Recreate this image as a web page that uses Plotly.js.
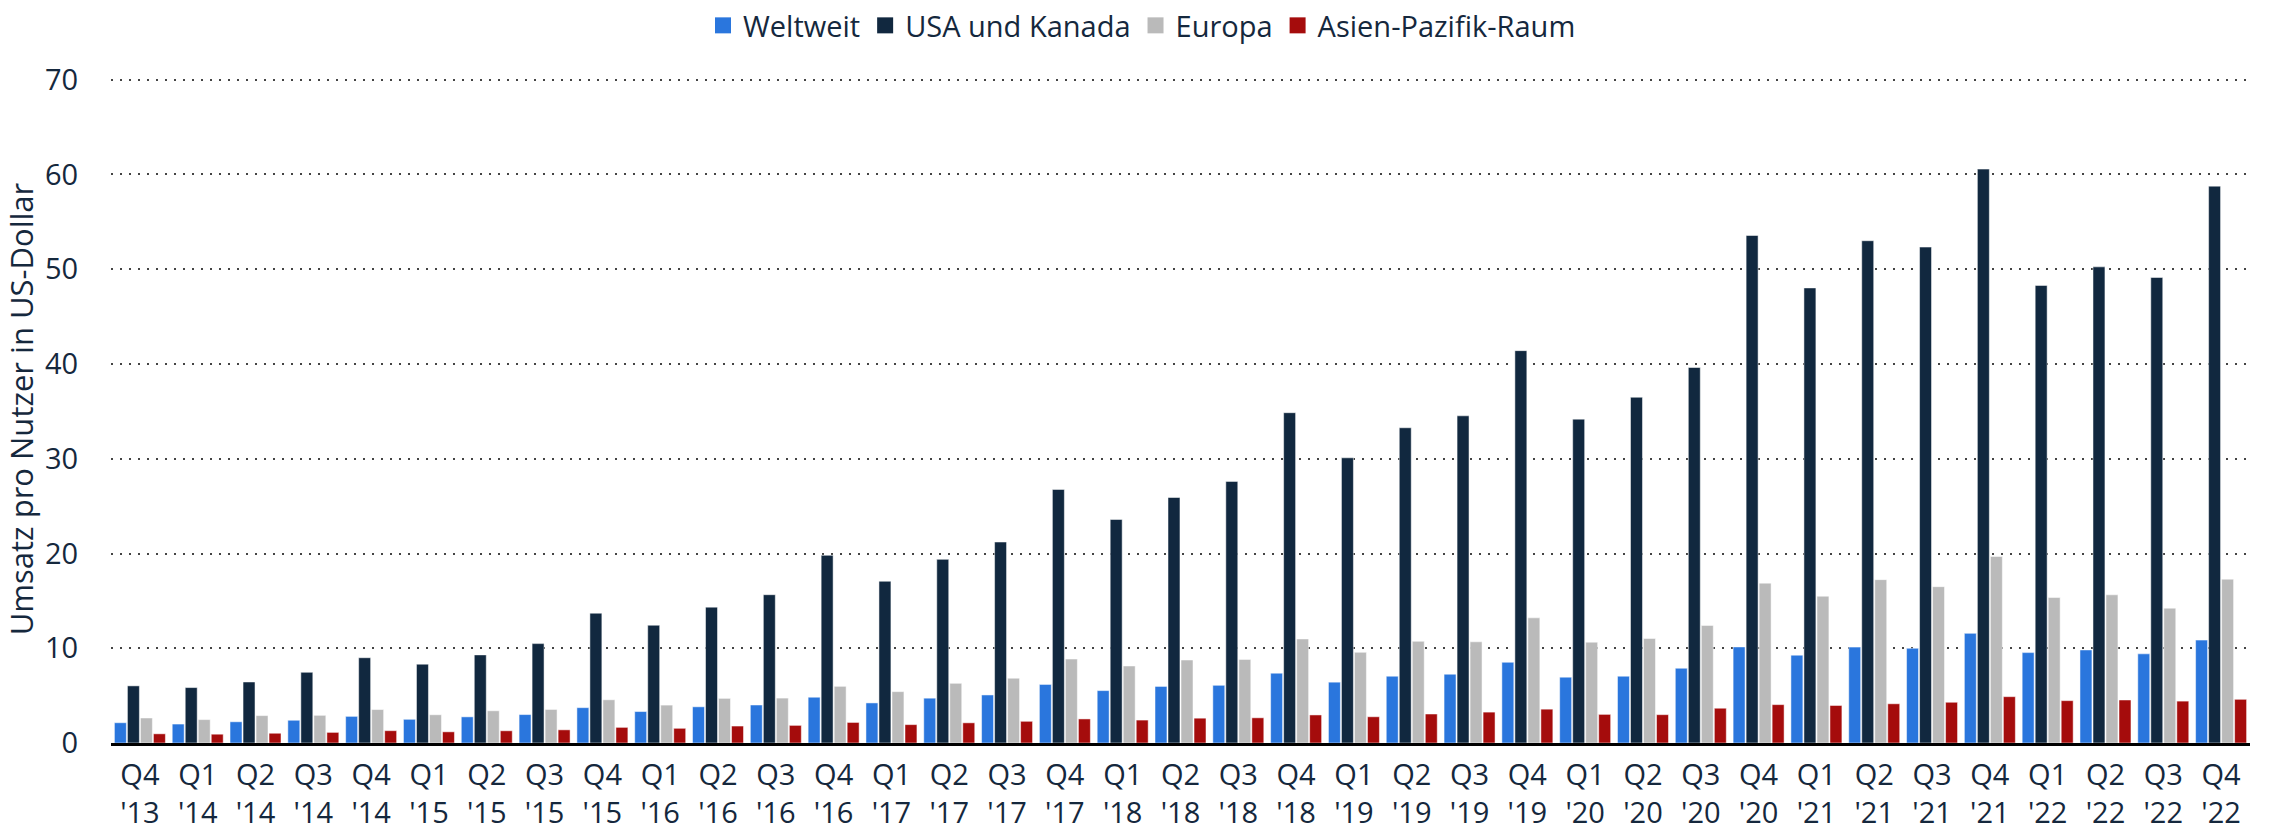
<!DOCTYPE html>
<html>
<head>
<meta charset="utf-8">
<script src="https://cdn.plot.ly/plotly-3.0.1.min.js"></script>
<style>html,body{margin:0;padding:0;background:#fff;}#chart{width:2276px;height:831px;}</style>
</head>
<body>
<div id="chart"></div>
<script>
const quarters = ["Q4<br>'13","Q1<br>'14","Q2<br>'14","Q3<br>'14","Q4<br>'14","Q1<br>'15","Q2<br>'15","Q3<br>'15","Q4<br>'15","Q1<br>'16","Q2<br>'16","Q3<br>'16","Q4<br>'16","Q1<br>'17","Q2<br>'17","Q3<br>'17","Q4<br>'17","Q1<br>'18","Q2<br>'18","Q3<br>'18","Q4<br>'18","Q1<br>'19","Q2<br>'19","Q3<br>'19","Q4<br>'19","Q1<br>'20","Q2<br>'20","Q3<br>'20","Q4<br>'20","Q1<br>'21","Q2<br>'21","Q3<br>'21","Q4<br>'21","Q1<br>'22","Q2<br>'22","Q3<br>'22","Q4<br>'22"];

const weltweit = [2.14,2.00,2.24,2.40,2.81,2.50,2.76,3.00,3.73,3.32,3.82,4.01,4.83,4.23,4.73,5.07,6.18,5.53,5.97,6.09,7.37,6.42,7.05,7.26,8.52,6.95,7.05,7.89,10.14,9.27,10.12,10.00,11.57,9.54,9.82,9.41,10.86];
const usaKanada = [6.03,5.85,6.44,7.46,9.00,8.32,9.30,10.49,13.70,12.43,14.34,15.65,19.81,17.07,19.38,21.21,26.76,23.59,25.91,27.61,34.86,30.10,33.27,34.53,41.41,34.18,36.49,39.63,53.56,48.03,53.01,52.34,60.57,48.29,50.25,49.13,58.77];
const europa = [2.64,2.47,2.89,2.92,3.53,2.98,3.40,3.54,4.56,4.00,4.71,4.74,5.98,5.42,6.30,6.84,8.86,8.13,8.76,8.82,10.98,9.57,10.73,10.68,13.21,10.64,11.03,12.41,16.87,15.49,17.24,16.50,19.68,15.35,15.64,14.23,17.29];
const asienPazifik = [0.97,0.93,1.03,1.12,1.30,1.18,1.29,1.39,1.65,1.55,1.79,1.86,2.17,1.94,2.13,2.29,2.54,2.42,2.62,2.66,2.96,2.77,3.06,3.26,3.57,3.02,2.99,3.67,4.05,3.96,4.14,4.30,4.89,4.47,4.54,4.42,4.61];

const seriesNames = ["Weltweit","USA und Kanada","Europa","Asien-Pazifik-Raum"];
const seriesColors = ["#2a76dd","#11283f","#bababa","#a50c0c"];
const seriesValues = [weltweit, usaKanada, europa, asienPazifik];

const textColor = "#15283d";
const fontFamily = "'Open Sans', 'Noto Sans', sans-serif";

const data = seriesValues.map((vals, i) => ({
  type: "bar",
  name: seriesNames[i],
  x: quarters,
  y: vals,
  showlegend: false,
  marker: {color: seriesColors[i], line: {color: "#ffffff", width: 0.5}},
  hoverinfo: "y+name"
}));
// legend entries with larger square swatches
seriesNames.forEach((n, i) => {
  data.push({
    type: "scatter",
    mode: "markers",
    name: n,
    x: [quarters[0]],
    y: [null],
    marker: {symbol: "square", size: 16, color: seriesColors[i]},
    showlegend: true,
    hoverinfo: "skip"
  });
});

const layout = {
  width: 2276,
  height: 831,
  paper_bgcolor: "#ffffff",
  plot_bgcolor: "#ffffff",
  font: {family: fontFamily, size: 29, color: textColor},
  margin: {l: 111, r: 26, t: 75, b: 88},
  barmode: "group",
  bargap: 0.1,
  bargroupgap: 0.08,
  showlegend: true,
  legend: {
    orientation: "h",
    x: 0.482,
    xanchor: "center",
    y: 1.0,
    yanchor: "top",
    yref: "container",
    font: {family: fontFamily, size: 29, color: textColor},
    itemwidth: 30,
    traceorder: "normal",
    bgcolor: "rgba(0,0,0,0)"
  },
  xaxis: {
    type: "category",
    range: [-0.5, quarters.length - 0.5],
    autorange: false,
    showgrid: false,
    showline: true,
    linecolor: "#000000",
    linewidth: 3,
    ticks: "outside",
    ticklen: 4,
    tickcolor: "rgba(0,0,0,0)",
    tickfont: {family: fontFamily, size: 29, color: textColor},
    tickangle: 0,
    fixedrange: true
  },
  yaxis: {
    range: [0, 70.5],
    dtick: 10,
    tick0: 0,
    showgrid: true,
    gridcolor: "#444444",
    griddash: "2px,7px",
    gridwidth: 2,
    zeroline: false,
    showline: false,
    ticks: "outside",
    ticklen: 26,
    tickcolor: "rgba(0,0,0,0)",
    tickfont: {family: fontFamily, size: 29, color: textColor},
    title: {text: "Umsatz pro Nutzer in US-Dollar", font: {family: fontFamily, size: 31, color: textColor}, standoff: 2},
    fixedrange: true
  }
};

Plotly.newPlot("chart", data, layout, {displayModeBar: false, staticPlot: true});
</script>
</body>
</html>
